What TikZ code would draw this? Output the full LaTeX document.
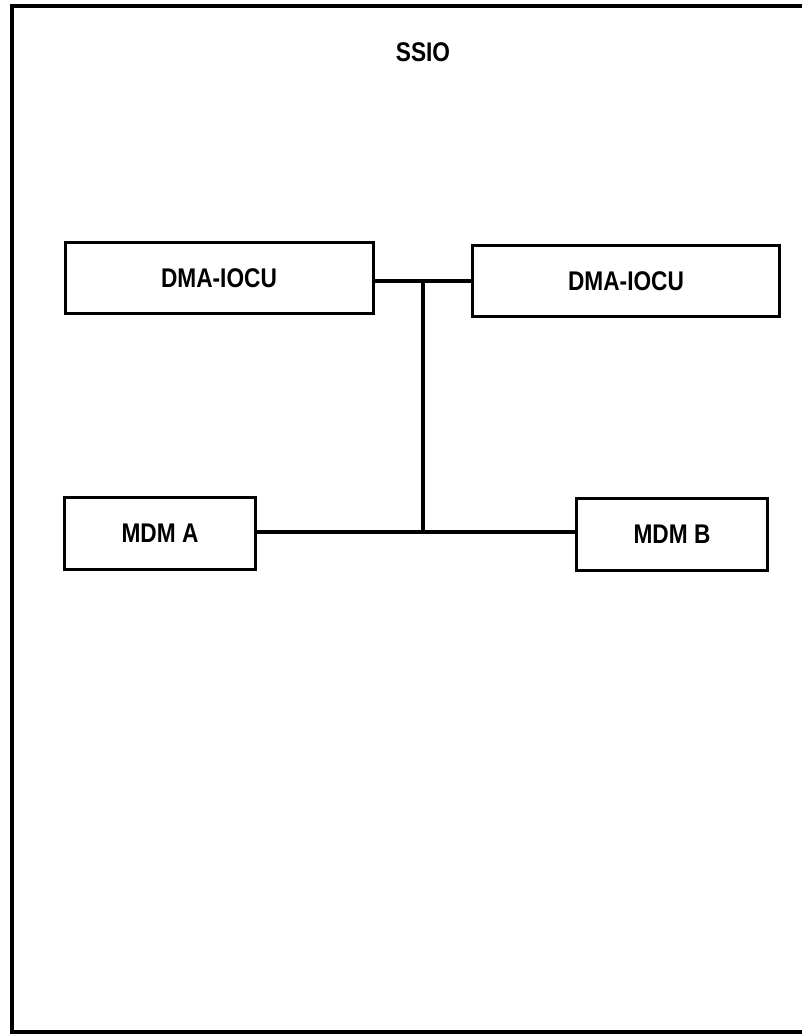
\documentclass[tikz,border=0pt]{standalone}
\usepackage{fontspec}
\setmainfont[FakeStretch=0.84]{Liberation Sans}
\usetikzlibrary{positioning}
\tikzset{
  frame/.style={line width=3.5pt},
  unit/.style={draw, line width=3pt, minimum height=71pt, inner sep=0pt, font=\fontsize{27}{30}\selectfont\bfseries},
  link/.style={line width=3.5pt},
}

\begin{document}
\begin{tikzpicture}[x=1pt, y=-1pt]
  \useasboundingbox (0,0) rectangle (802,1036);

  % outer frame, open on the right
  \draw[frame] (806,6) -- (12,6) -- (12,1032) -- (806,1032);
  \node[font=\fontsize{27}{30}\selectfont\bfseries] (title) at (423,52) {SSIO};

  % controllers
  \node[unit, minimum width=308pt] (iocuL) at (219,278) {DMA-IOCU};
  \node[unit, minimum width=307pt] (iocuR) at (626,281) {DMA-IOCU};

  % MDMs
  \node[unit, minimum width=191pt, minimum height=72pt] (mdmA) at (160,533) {MDM A};
  \node[unit, minimum width=191pt, minimum height=72pt] (mdmB) at (672,534) {MDM B};

  % bus
  \coordinate (top) at (423,281);
  \coordinate (bot) at (423,532);
  \draw[link] (iocuL.east |- top) -- (iocuR.west);
  \draw[link] (top) -- (bot);
  \draw[link] (mdmA.east |- bot) -- (mdmB.west |- bot);
\end{tikzpicture}
\end{document}
